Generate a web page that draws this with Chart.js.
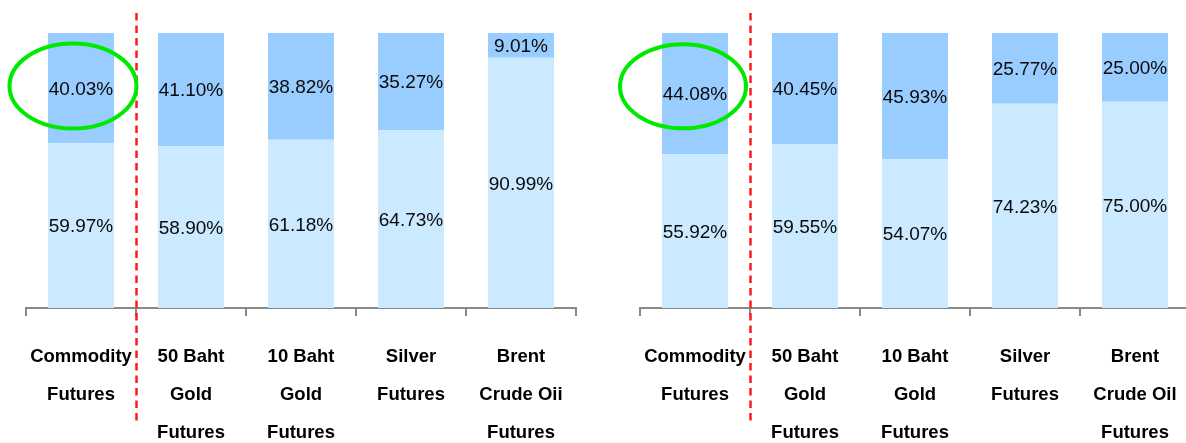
<!DOCTYPE html>
<html>
<head>
<meta charset="utf-8">
<script src="https://cdn.jsdelivr.net/npm/chart.js@4/dist/chart.umd.min.js"></script>
<style>
  html, body { margin: 0; padding: 0; background: #fff; }
  body { width: 1186px; height: 443px; overflow: hidden; position: relative; }
  .panel { position: absolute; top: 0; height: 443px; }
  #p1 { left: 0; width: 600px; }
  #p2 { left: 600px; width: 600px; }
</style>
</head>
<body>
<div class="panel" id="p1"><canvas id="c1" width="600" height="443"></canvas></div>
<div class="panel" id="p2"><canvas id="c2" width="600" height="443"></canvas></div>
<script>
// ---- Data ----
const leftCategories = [
  ["Commodity", "Futures"],
  ["50 Baht", "Gold", "Futures"],
  ["10 Baht", "Gold", "Futures"],
  ["Silver", "Futures"],
  ["Brent", "Crude Oii", "Futures"]
];
const leftBottom = [59.97, 58.90, 61.18, 64.73, 90.99];
const leftTop    = [40.03, 41.10, 38.82, 35.27, 9.01];

const rightCategories = [
  ["Commodity", "Futures"],
  ["50 Baht", "Gold", "Futures"],
  ["10 Baht", "Gold", "Futures"],
  ["Silver", "Futures"],
  ["Brent", "Crude Oil", "Futures"]
];
const rightBottom = [55.92, 59.55, 54.07, 74.23, 75.00];
const rightTop    = [44.08, 40.45, 45.93, 25.77, 25.00];

// ---- Styles ----
const COLOR_BOTTOM = '#cceaff';
const COLOR_TOP = '#99ccff';
const FONT_FAMILY = '"Liberation Sans", Arial, sans-serif';

const valueLabels = {
  id: 'valueLabels',
  afterDatasetsDraw(chart) {
    const ctx = chart.ctx;
    ctx.save();
    ctx.font = '19px ' + FONT_FAMILY;
    ctx.fillStyle = '#0a0a0a';
    ctx.textAlign = 'center';
    ctx.textBaseline = 'middle';
    chart.data.datasets.forEach((ds, di) => {
      const meta = chart.getDatasetMeta(di);
      meta.data.forEach((el, i) => {
        const v = ds.data[i];
        const cy = (el.y + el.base) / 2;
        ctx.fillText(v.toFixed(2) + '%', el.x, cy + 1.5);
      });
    });
    ctx.restore();
  }
};

const overlay = {
  id: 'overlay',
  afterDraw(chart, args, opts) {
    const ctx = chart.ctx;
    const xs = chart.scales.x;
    const ys = chart.scales.y;
    ctx.save();
    // red dashed divider between first and second category
    const lx = Math.round(xs.getPixelForValue(0.5) + opts.lineShift) + 0.5;
    ctx.strokeStyle = '#ff1a1a';
    ctx.lineWidth = 2.5;
    ctx.setLineDash([7.5, 5]);
    ctx.beginPath();
    ctx.moveTo(lx, 13);
    ctx.lineTo(lx, 421);
    ctx.stroke();
    // green ellipse around first top segment
    ctx.setLineDash([]);
    ctx.strokeStyle = '#00ea00';
    ctx.lineWidth = 4;
    const cx = xs.getPixelForValue(0) + opts.ellDx;
    const cy = ys.getPixelForValue(opts.ellY);
    ctx.beginPath();
    ctx.ellipse(cx, cy, opts.rx, opts.ry, 0, 0, Math.PI * 2);
    ctx.stroke();
    ctx.restore();
  }
};

function makeChart(id, cats, bottom, top, padLeft, padRight, ov) {
  return new Chart(document.getElementById(id), {
    type: 'bar',
    data: {
      labels: cats,
      datasets: [
        { data: bottom, backgroundColor: COLOR_BOTTOM, borderWidth: 0 },
        { data: top, backgroundColor: COLOR_TOP, borderWidth: 0 }
      ]
    },
    options: {
      responsive: false,
      animation: false,
      devicePixelRatio: 1,
      layout: { padding: { left: padLeft, right: padRight, top: 33, bottom: 0 } },
      datasets: { bar: { categoryPercentage: 1.0, barPercentage: 0.6 } },
      plugins: {
        legend: { display: false },
        tooltip: { enabled: false },
        overlay: ov
      },
      scales: {
        x: {
          stacked: true,
          afterFit(scale) { scale.height = 135; },
          border: { display: true, color: '#888', width: 2 },
          grid: {
            display: true, drawOnChartArea: false, drawTicks: true,
            tickLength: 8, color: '#888', lineWidth: 2, offset: true
          },
          ticks: {
            color: '#000',
            padding: 21.5,
            maxRotation: 0,
            autoSkip: false,
            font: { family: FONT_FAMILY, size: 18.5, weight: 'bold', lineHeight: 2.07 }
          }
        },
        y: {
          stacked: true,
          display: false,
          min: 0,
          max: 100
        }
      }
    },
    plugins: [valueLabels, overlay]
  });
}

makeChart('c1', leftCategories, leftBottom, leftTop, 26, 24,
  { lineShift: 0, ellDx: -8, ellY: 80.7, rx: 63.5, ry: 42.5 });
makeChart('c2', rightCategories, rightBottom, rightTop, 40, 10,
  { lineShift: 0, ellDx: -12, ellY: 80.6, rx: 63, ry: 42 });
</script>
</body>
</html>
